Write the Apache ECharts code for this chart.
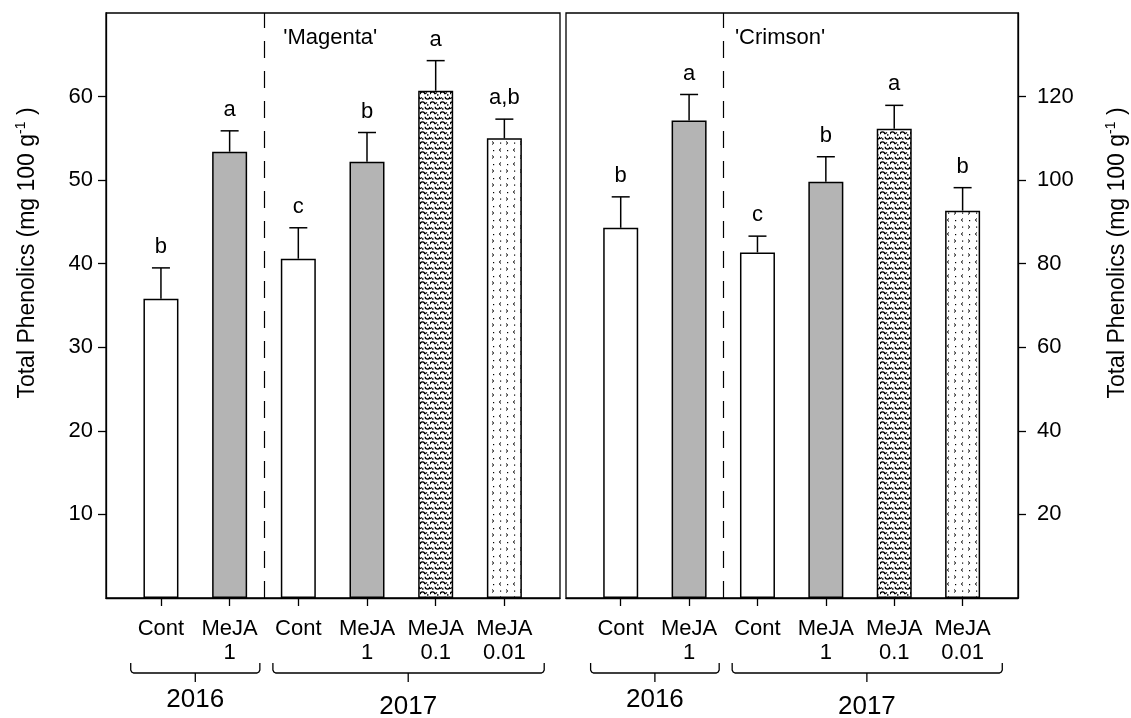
<!DOCTYPE html>
<html>
<head>
<meta charset="utf-8">
<script src="https://cdn.jsdelivr.net/npm/echarts@6/dist/echarts.min.js"></script>
<style>
html,body{margin:0;padding:0;background:#fff;}
#main{width:1131px;height:718px;}
</style>
</head>
<body>
<div id="main"></div>
<script>
// ---- data ----
const categories = ['Cont', 'MeJA\n1', 'Cont', 'MeJA\n1', 'MeJA\n0.1', 'MeJA\n0.01'];
const positions = [1, 2, 3, 4, 5, 6];
const treatmentFill = ['white', 'gray', 'white', 'gray', 'wave', 'dots'];
const magentaMean = [35.8, 53.4, 40.6, 52.2, 60.7, 55.0];
const magentaSE = [3.7, 2.5, 3.7, 3.5, 3.6, 2.3];
const magentaLetters = ['b', 'a', 'c', 'b', 'a', 'a,b'];
const crimsonMean = [88.6, 114.3, 82.7, 99.6, 112.3, 92.7];
const crimsonSE = [7.4, 6.2, 3.9, 6.0, 5.6, 5.5];
const crimsonLetters = ['b', 'a', 'c', 'b', 'a', 'b'];
const leftTicks = [10, 20, 30, 40, 50, 60];
const rightTicks = [20, 40, 60, 80, 100, 120];
const cultivars = ["'Magenta'", "'Crimson'"];
const years = ['2016', '2017'];
const yearSpans = [[0.56, 2.44, 1.5], [2.63, 6.58, 4.6]]; // bracket start, end, centre (category units)
const yearSplit = 2.5;
const axisTitle = 'Total Phenolics (mg 100 g{sup|-1}{n| )}';

const FONT = '"Liberation Sans", Arial, Helvetica, sans-serif';

function makeWave() {
  const c = document.createElement('canvas');
  c.width = 10; c.height = 10;
  const g = c.getContext('2d');
  g.fillStyle = '#fff'; g.fillRect(0, 0, 10, 10);
  g.strokeStyle = '#000'; g.lineWidth = 1.3;
  g.beginPath(); g.arc(2.5, 4.2, 2.3, Math.PI * 1.0, Math.PI * 2.0); g.stroke();
  g.beginPath(); g.moveTo(5, 3.8); g.lineTo(7, 2.5); g.stroke();
  g.beginPath(); g.arc(7.5, 6.8, 2.3, 0, Math.PI); g.stroke();
  g.beginPath(); g.moveTo(0, 8.8); g.lineTo(2, 7.5); g.stroke();
  g.beginPath(); g.moveTo(10, 8.8); g.lineTo(12, 7.5); g.stroke();
  g.fillStyle = '#000';
  g.fillRect(7, 4.2, 1.5, 1.5);
  g.fillRect(2, 8.2, 1.5, 1.5);
  return c;
}
function makeDots() {
  const c = document.createElement('canvas');
  c.width = 14; c.height = 14;
  const g = c.getContext('2d');
  g.fillStyle = '#fff'; g.fillRect(0, 0, 14, 14);
  g.strokeStyle = '#000'; g.lineWidth = 1;
  g.beginPath(); g.moveTo(2, 1.5); g.lineTo(3.8, 3); g.lineTo(2, 4.5); g.stroke();
  g.beginPath(); g.moveTo(11, 8.5); g.lineTo(9.2, 10); g.lineTo(11, 11.5); g.stroke();
  g.fillStyle = '#000';
  g.fillRect(10, 2.5, 1.2, 1.2);
  g.fillRect(3, 10, 1.2, 1.2);
  return c;
}
const waveCanvas = makeWave();
const dotsCanvas = makeDots();
function fillFor(kind) {
  if (kind === 'gray') return '#b4b4b4';
  if (kind === 'wave') return { image: waveCanvas, repeat: 'repeat' };
  if (kind === 'dots') return { image: dotsCanvas, repeat: 'repeat' };
  return '#ffffff';
}

const chart = echarts.init(document.getElementById('main'), null, { renderer: 'canvas' });

function xAxisDef(gi) {
  return {
    type: 'value', gridIndex: gi, min: 0.2, max: 6.81,
    axisLine: { show: true, lineStyle: { color: '#000', width: 1.3 } },
    splitLine: { show: false },
    axisTick: { show: true, inside: false, length: 8, lineStyle: { color: '#000', width: 1.3 }, customValues: positions },
    axisLabel: {
      show: true, customValues: positions, margin: 19,
      fontFamily: FONT, fontSize: 22, color: '#000', lineHeight: 24,
      formatter: v => categories[Math.round(v) - 1] || ''
    }
  };
}
function yAxisDef(gi, max, ticks, pos, margin) {
  return {
    type: 'value', gridIndex: gi, min: 0, max: max, position: pos,
    axisLine: { show: true, lineStyle: { color: '#000', width: 1.3 } },
    splitLine: { show: false },
    axisTick: { show: true, inside: false, length: 8, lineStyle: { color: '#000', width: 1.3 }, customValues: ticks },
    axisLabel: { show: true, customValues: ticks, margin: margin, fontFamily: FONT, fontSize: 22, color: '#000' }
  };
}

function barSeries(gi, means) {
  return {
    type: 'bar', xAxisIndex: gi, yAxisIndex: gi, barWidth: 35,
    data: positions.map((p, i) => ({
      value: [p, means[i]],
      itemStyle: { color: fillFor(treatmentFill[i]), borderColor: '#000', borderWidth: 1.5 }
    })),
    markLine: {
      silent: true, symbol: ['none', 'none'], label: { show: false },
      lineStyle: { color: '#000', type: [17, 13], width: 1.2 },
      data: [{ xAxis: yearSplit }]
    },
    z: 2
  };
}
function errSeries(gi, means, se, letters) {
  return {
    type: 'custom', xAxisIndex: gi, yAxisIndex: gi, z: 5,
    data: positions.map((p, i) => [p, means[i], means[i] + se[i], i]),
    renderItem: function (params, api) {
      const x = api.value(0);
      const b = api.coord([x, api.value(1)]);
      const t = api.coord([x, api.value(2)]);
      const idx = api.value(3);
      const st = { stroke: '#000', lineWidth: 1.5 };
      return {
        type: 'group',
        children: [
          { type: 'line', shape: { x1: b[0], y1: b[1], x2: t[0], y2: t[1] }, style: st },
          { type: 'line', shape: { x1: t[0] - 9, y1: t[1], x2: t[0] + 9, y2: t[1] }, style: st },
          { type: 'text', x: t[0], y: t[1] - 21,
            style: { text: letters[idx], fontFamily: FONT, fontSize: 22, fill: '#000', align: 'center', verticalAlign: 'middle' } }
        ]
      };
    }
  };
}

chart.setOption({
  backgroundColor: '#fff',
  animation: false,
  grid: [
    { left: 106, right: 571, top: 13, bottom: 120, show: true, borderColor: '#000', borderWidth: 1.3, backgroundColor: 'transparent' },
    { left: 566, right: 113, top: 13, bottom: 120, show: true, borderColor: '#000', borderWidth: 1.3, backgroundColor: 'transparent' }
  ],
  xAxis: [xAxisDef(0), xAxisDef(1)],
  yAxis: [yAxisDef(0, 70, leftTicks, 'left', 13), yAxisDef(1, 140, rightTicks, 'right', 19)],
  series: [
    barSeries(0, magentaMean), errSeries(0, magentaMean, magentaSE, magentaLetters),
    barSeries(1, crimsonMean), errSeries(1, crimsonMean, crimsonSE, crimsonLetters)
  ]
});

// annotations positioned through the axes
const graphics = [];
const titleOffsets = [2.78, 2.67];
[0, 1].forEach(gi => {
  const px = v => chart.convertToPixel({ xAxisIndex: gi }, v);
  graphics.push({
    type: 'text', x: px(titleOffsets[gi]), y: 38,
    style: { text: cultivars[gi], fontFamily: FONT, fontSize: 22, fill: '#000', align: 'left', verticalAlign: 'middle' }
  });
  yearSpans.forEach((s, k) => {
    const x1 = px(s[0]), x2 = px(s[1]), xc = px(s[2]);
    const y0 = 663, y1 = 673, y2 = 682;
    graphics.push({
      type: 'polyline',
      shape: { points: [[x1, y0], [x1, y1 - 3], [x1 + 1, y1 - 1], [x1 + 3, y1], [x2 - 3, y1], [x2 - 1, y1 - 1], [x2, y1 - 3], [x2, y0]] },
      style: { stroke: '#000', lineWidth: 1.3, fill: null }
    });
    graphics.push({
      type: 'line', shape: { x1: xc, y1: y1, x2: xc, y2: y2 },
      style: { stroke: '#000', lineWidth: 1.3 }
    });
    graphics.push({
      type: 'text', x: xc, y: k === 0 ? 700 : 707,
      style: { text: years[k], fontFamily: FONT, fontSize: 26, fill: '#000', align: 'center', verticalAlign: 'middle' }
    });
  });
});
const titleStyle = {
  text: axisTitle, fontFamily: FONT, fontSize: 23, fill: '#000', align: 'center', verticalAlign: 'middle',
  rich: {
    sup: { fontSize: 14, fontFamily: FONT, fill: '#000', verticalAlign: 'top', lineHeight: 27 },
    n: { fontSize: 23, fontFamily: FONT, fill: '#000', lineHeight: 27 }
  }
};
graphics.push({ type: 'text', x: 28, y: 253, rotation: Math.PI / 2, style: Object.assign({}, titleStyle) });
graphics.push({ type: 'text', x: 1118, y: 253, rotation: Math.PI / 2, style: Object.assign({}, titleStyle) });
chart.setOption({ graphic: graphics });
</script>
</body>
</html>
